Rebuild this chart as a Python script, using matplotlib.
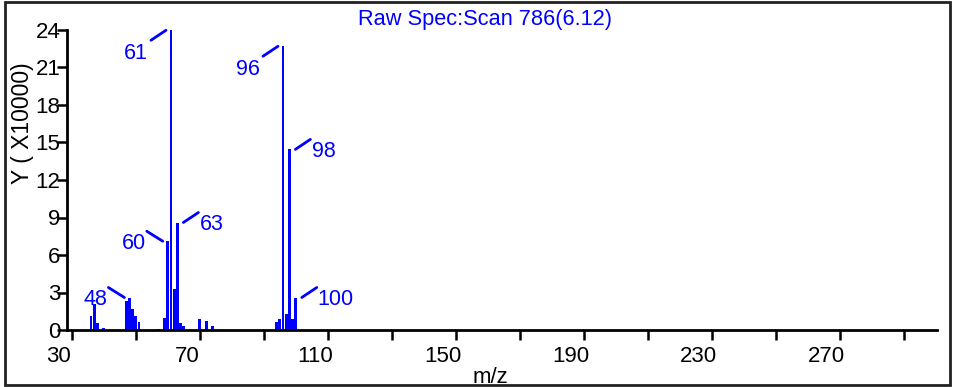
import matplotlib
matplotlib.use("Agg")
import matplotlib.pyplot as plt
from matplotlib.patches import Rectangle
from matplotlib.transforms import ScaledTranslation, offset_copy

plt.rcParams['font.family'] = ['Liberation Sans', 'DejaVu Sans']

# spectrum (intensity in units of 10000)
mz = [36, 37, 38, 40, 42, 43, 44, 45,
      47, 48, 49, 50, 51,
      57, 59, 60, 61, 62, 63, 64, 65,
      70, 72, 74, 83, 85, 87,
      94, 95, 96, 97, 98, 99, 100,
      152, 167, 201, 300]
intensity = [1.15, 2.05, 0.6, 0.2, 0.04, 0.04, 0.04, 0.04,
             2.35, 2.6, 1.65, 1.1, 0.65,
             0.12, 1.0, 7.1, 23.98, 3.3, 8.6, 0.6, 0.3,
             0.9, 0.75, 0.3, 0.04, 0.04, 0.04,
             0.66, 0.85, 22.7, 1.3, 14.45, 0.85, 2.6,
             0.04, 0.04, 0.04, 0.04]

# labelled peaks
peak_labels = [61, 96, 60, 48, 63, 98, 100]

xticks = list(range(30, 300, 20))
xticklabels = [str(t) if (t - 30) % 40 == 0 else '' for t in xticks]
yticks = list(range(0, 25, 3))

title = 'Raw Spec:Scan 786(6.12)'

fig = plt.figure(figsize=(9.55, 3.87), dpi=100)
ax = fig.add_axes([67 / 955, 1 - 330 / 387, 870 / 955, 300 / 387])

ax.bar(mz, intensity, width=0.85, color='blue', linewidth=0)
ax.set_xlim(28.5, 300.4)
ax.set_ylim(0, 24)

for s in ['top', 'right']:
    ax.spines[s].set_visible(False)
for s in ['left', 'bottom']:
    ax.spines[s].set_linewidth(2.0)

ax.set_xticks(xticks)
ax.set_xticklabels(xticklabels)
ax.set_yticks(yticks)
ax.tick_params(axis='both', direction='out', length=7.2, width=1.8, labelsize=16)
ax.tick_params(axis='x', pad=4)
ax.tick_params(axis='y', pad=-2.5)
shift = ScaledTranslation(-13 / 100, 0, fig.dpi_scale_trans)
for lab in ax.get_xticklabels():
    lab.set_transform(lab.get_transform() + shift)

# peak labels with little leader lines (pixel offsets from the peak top)
place = {
    61: 'down-left', 96: 'down-left',
    60: 'up-left', 48: 'up-left',
    63: 'up-right', 98: 'up-right', 100: 'up-right',
}
for m in peak_labels:
    h = intensity[mz.index(m)]
    side = place[m]
    if side == 'down-left':
        p0, p1, txt = (-5, 0), (-20, -10), (-35, -23)
    elif side == 'up-left':
        p0, p1, txt = (-5, 0), (-21, 10), (-34, -2)
    else:
        p0, p1, txt = (6, 0), (21, 10), (34 if m < 100 else 40, -2)
    base = offset_copy(ax.transData, fig=fig, x=p0[0], y=p0[1], units='dots')
    ax.annotate('', xy=(m, h), xycoords=base,
                xytext=(p1[0] - p0[0], p1[1] - p0[1]), textcoords='offset pixels',
                arrowprops=dict(arrowstyle='-', color='blue', lw=2.0,
                                shrinkA=0, shrinkB=0),
                annotation_clip=False)
    ax.annotate(str(m), xy=(m, h), xytext=txt, textcoords='offset pixels',
                ha='center', va='center', color='blue', fontsize=15.5,
                annotation_clip=False)

fig.text(485 / 955, 1 - 25 / 387, title, ha='center', va='baseline',
         color='blue', fontsize=15.7)
fig.text(23 / 955, 1 - 123.5 / 387, 'Y ( X10000)', rotation=90,
         ha='center', va='center', fontsize=16.5)
fig.text(490 / 955, 4 / 387, 'm/z', ha='center', va='baseline', fontsize=16)

fig.patches.append(Rectangle((5 / 955, 2.5 / 387), 945 / 955, 383 / 387,
                             transform=fig.transFigure, fill=False,
                             edgecolor='#222222', linewidth=2.0, zorder=10))

fig.savefig('out.png', dpi=100)
